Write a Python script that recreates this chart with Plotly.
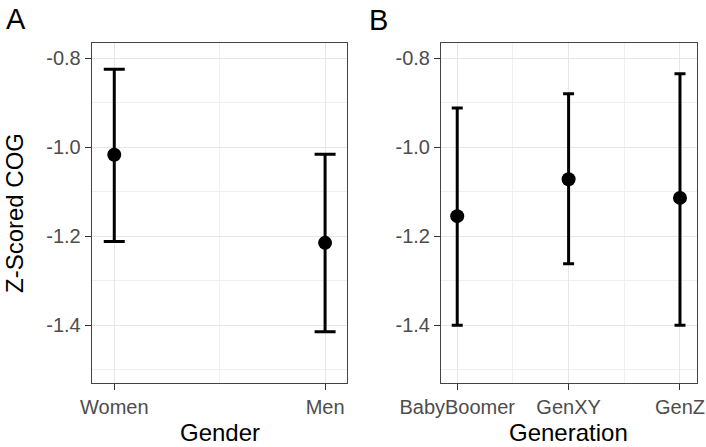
import plotly.graph_objects as go

# Panel A: Gender
gender_cats = ["Women", "Men"]
gender_mean = [-1.017, -1.215]
gender_lower = [-1.212, -1.415]
gender_upper = [-0.825, -1.016]

# Panel B: Generation
gen_cats = ["BabyBoomer", "GenXY", "GenZ"]
gen_mean = [-1.155, -1.072, -1.114]
gen_lower = [-1.400, -1.262, -1.400]
gen_upper = [-0.912, -0.880, -0.835]

y_ticks = [-0.8, -1.0, -1.2, -1.4]
y_tick_labels = ["-0.8", "-1.0", "-1.2", "-1.4"]
y_minor = [-0.9, -1.1, -1.3, -1.5]

FONT = "Liberation Sans, Arial, Helvetica, sans-serif"
TICKC = "#4d4d4d"

fig = go.Figure()


def add_panel(cats, mean, lower, upper, xa, ya, capw):
    xs = list(range(len(cats)))
    fig.add_trace(go.Scatter(
        x=xs, y=mean, mode="markers",
        marker=dict(color="black", size=14),
        error_y=dict(type="data", symmetric=False,
                     array=[u - m for u, m in zip(upper, mean)],
                     arrayminus=[m - l for m, l in zip(mean, lower)],
                     color="black", thickness=3, width=capw),
        xaxis=xa, yaxis=ya, showlegend=False, hoverinfo="skip"))


add_panel(gender_cats, gender_mean, gender_lower, gender_upper, "x", "y", 10.5)
add_panel(gen_cats, gen_mean, gen_lower, gen_upper, "x2", "y2", 5.5)

common_axis = dict(showline=True, mirror=True, linecolor="#444", linewidth=1,
                   ticks="outside", ticklen=6, tickwidth=1, tickcolor="#333",
                   gridcolor="#e6e6e6", gridwidth=1.1, zeroline=False,
                   automargin=False,
                   tickfont=dict(family=FONT, size=20, color=TICKC))

yaxis_common = dict(common_axis, range=[-1.5308, -0.7646], tickmode="array",
                    tickvals=y_ticks, ticktext=y_tick_labels,
                    minor=dict(tickmode="array", tickvals=y_minor, showgrid=True,
                               gridcolor="#f0f0f0", gridwidth=0.6, ticks=""))

fig.update_layout(
    width=706, height=447,
    margin=dict(l=0, r=0, t=0, b=0, autoexpand=False),
    paper_bgcolor="white", plot_bgcolor="white",
    font=dict(family=FONT),
    xaxis=dict(common_axis, domain=[0.1299, 0.4915], range=[-0.107, 1.104],
               tickmode="array", tickvals=list(range(len(gender_cats))),
               ticktext=gender_cats,
               minor=dict(tickmode="array", tickvals=[0.5], showgrid=True,
                          gridcolor="#f0f0f0", gridwidth=0.6, ticks="")),
    yaxis=dict(yaxis_common, domain=[0.1425, 0.9049], anchor="x"),
    xaxis2=dict(common_axis, domain=[0.6246, 0.9868], range=[-0.146, 2.15],
                tickmode="array", tickvals=list(range(len(gen_cats))),
                ticktext=gen_cats, anchor="y2",
                minor=dict(tickmode="array", tickvals=[0.5, 1.5], showgrid=True,
                           gridcolor="#f0f0f0", gridwidth=0.6, ticks="")),
    yaxis2=dict(yaxis_common, domain=[0.1425, 0.9049], anchor="x2"),
)

ann_font = dict(family=FONT, color="black")
fig.add_annotation(text="A", x=16 / 706, y=1 - 19 / 447, xref="paper", yref="paper",
                   showarrow=False, font=dict(ann_font, size=29), xanchor="center", yanchor="middle")
fig.add_annotation(text="B", x=378 / 706, y=1 - 20 / 447, xref="paper", yref="paper",
                   showarrow=False, font=dict(ann_font, size=29), xanchor="center", yanchor="middle")
fig.add_annotation(text="Z-Scored COG", x=14 / 706, y=1 - 213 / 447, xref="paper", yref="paper",
                   showarrow=False, textangle=-90, font=dict(ann_font, size=24),
                   xanchor="center", yanchor="middle")
fig.add_annotation(text="Gender", x=219.5 / 706, y=1 - 432 / 447, xref="paper", yref="paper",
                   showarrow=False, font=dict(ann_font, size=24), xanchor="center", yanchor="middle")
fig.add_annotation(text="Generation", x=568.5 / 706, y=1 - 432 / 447, xref="paper", yref="paper",
                   showarrow=False, font=dict(ann_font, size=24), xanchor="center", yanchor="middle")

fig.write_html("out.html", config={"displayModeBar": False},
               post_script="document.body.style.margin='0';document.body.style.padding='0';")
